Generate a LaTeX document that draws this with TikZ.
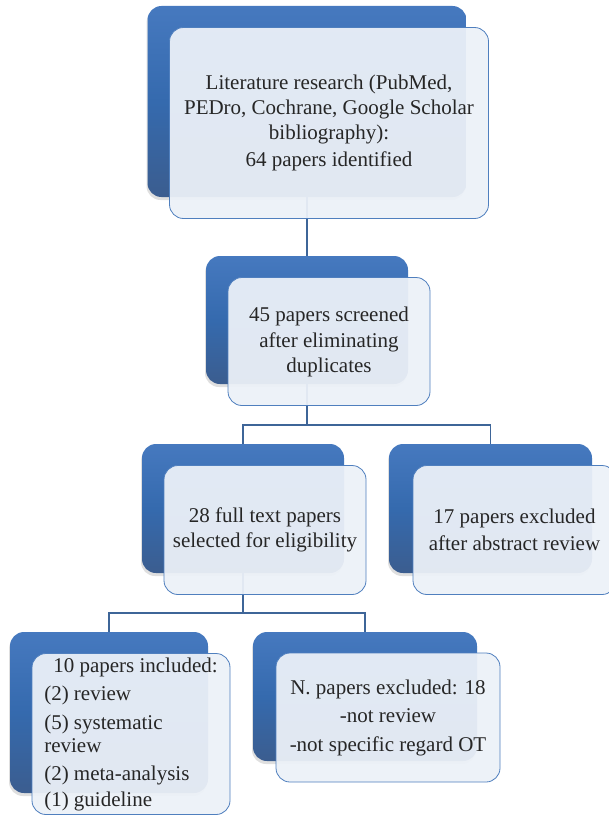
\documentclass[tikz,border=0pt]{standalone}
\usepackage{fontspec}
\setmainfont{Liberation Serif}
\usepackage{xcolor}
\usetikzlibrary{shadows, positioning}

\definecolor{backtop}{HTML}{4679BF}
\definecolor{backmid}{HTML}{356AAE}
\definecolor{backbot}{HTML}{3B5D8F}
\definecolor{frameblue}{HTML}{4F7FBE}
\definecolor{frontfill}{HTML}{ECF1F8}
\definecolor{lineblue}{HTML}{3E6598}
\definecolor{ink}{HTML}{262626}

\begin{document}
\begin{tikzpicture}[x=1pt, y=-1pt,
    back/.style={rounded corners=14pt, top color=backtop, bottom color=backbot, middle color=backmid,
                 inner sep=0pt, drop shadow={opacity=0.25, shadow xshift=-1pt, shadow yshift=-3pt}},
    front/.style={draw=frameblue, line width=0.8pt, fill=frontfill, fill opacity=0.94, text opacity=1,
                  rounded corners=14pt, inner sep=0pt, align=center, text=ink,
                  font=\fontsize{21}{25}\selectfont},
    link/.style={draw=lineblue, line width=1.3pt}]
\useasboundingbox (0,0) rectangle (609,816);

\node[back, minimum width=319pt, minimum height=191pt] (b1) at (307, 101.5) {};
\node[back, minimum width=202pt, minimum height=128pt] (b2) at (307, 320) {};
\node[back, minimum width=202pt, minimum height=129pt] (b3) at (243, 508.5) {};
\node[back, minimum width=203pt, minimum height=129pt] (b4) at (490.5, 508.5) {};
\node[back, minimum width=198pt, minimum height=161pt] (b5) at (109, 712.5) {};
\node[back, minimum width=224pt, minimum height=129pt] (b6) at (365, 696.5) {};

\coordinate (j2) at (307, 425);
\coordinate (j3) at (243, 613);

\draw[link] (b1) -- (b2);
\draw[link] (b2) -- (j2) -| (b3);
\draw[link] (j2) -| (b4);
\draw[link] (b3) -- (j3) -| (b5);
\draw[link] (j3) -| (b6);

\node[front, minimum width=319pt, minimum height=191pt] (t1) at (329, 123)
    {Literature research (PubMed,\\ PEDro, Cochrane, Google Scholar\\ bibliography):\\[2pt] 64 papers identified};
\node[front, minimum width=202pt, minimum height=128pt] (t2) at (329, 341.5)
    {45 papers screened\\[1pt] after eliminating\\ duplicates};
\node[front, minimum width=202pt, minimum height=129pt] (t3) at (265, 530)
    {28 full text papers\\ selected for eligibility};
\node[front, minimum width=203pt, minimum height=129pt] (t4) at (514.5, 530)
    {17 papers excluded\\[2pt] after abstract review};
\node[front, minimum width=198pt, minimum height=161pt, align=left] (t5) at (131, 734)
    {\hspace*{9pt}10 papers included:\\[3pt] (2) review\\[4pt] (5) systematic\\[-2pt] review\\[3pt] (2) meta-analysis\\[1pt] (1) guideline};
\node[front, minimum width=224pt, minimum height=129pt] (t6) at (388, 717.5)
    {N. papers excluded: 18\\[3pt] -not review\\[4pt] -not specific regard OT};
\end{tikzpicture}
\end{document}
